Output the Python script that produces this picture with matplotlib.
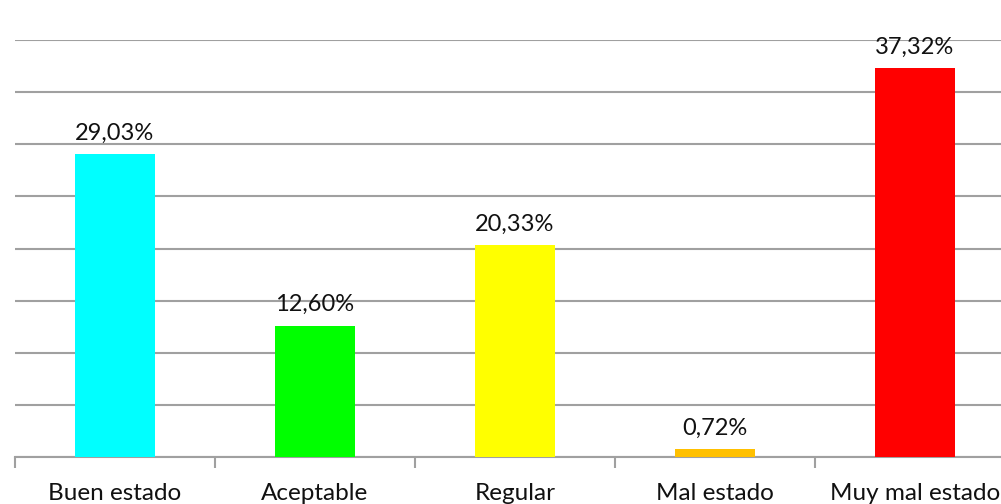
import matplotlib.pyplot as plt
import numpy as np

categories = ['Buen estado', 'Aceptable', 'Regular', 'Mal estado', 'Muy mal estado']
values = [29.03, 12.60, 20.33, 0.72, 37.32]
labels = ['29,03%', '12,60%', '20,33%', '0,72%', '37,32%']
colors = ['#00ffff', '#00ff00', '#ffff00', '#ffc000', '#ff0000']

plt.rcParams['font.family'] = ['Lato', 'DejaVu Sans']

fig = plt.figure(figsize=(10.01, 5.04), dpi=100)
# the plot area runs past the right edge, as in the original
ax = fig.add_axes([15 / 1001, 47 / 504, 1000 / 1001, 417 / 504])

index = np.arange(len(categories))
ax.bar(index, values, 0.4, color=colors, zorder=3)

for i in range(len(categories)):
    ax.text(index[i], values[i] + 1.0, labels[i], ha='center', va='bottom',
            fontsize=17, color='#111111')

ax.set_xlim(-0.5, 4.5)
ax.set_ylim(0, 40)
ax.set_yticks(np.arange(0, 41, 5))
ax.yaxis.grid(True, color='#a0a0a0', linewidth=1.5, zorder=0)
ax.tick_params(axis='y', length=0, labelleft=False)

# tick marks between categories, labels at the centres
ax.set_xticks(np.arange(-0.5, 5, 1))
ax.set_xticklabels([])
ax.tick_params(axis='x', which='major', length=8, width=1.5, color='#a0a0a0')
ax.set_xticks(index, minor=True)
ax.set_xticklabels(categories, minor=True, fontsize=17.5, color='#111111')
ax.tick_params(axis='x', which='minor', length=0, pad=19)

for s in ['top', 'right', 'left']:
    ax.spines[s].set_visible(False)
ax.spines['bottom'].set_color('#a0a0a0')
ax.spines['bottom'].set_linewidth(1.5)

plt.savefig('out.png', dpi=100)
